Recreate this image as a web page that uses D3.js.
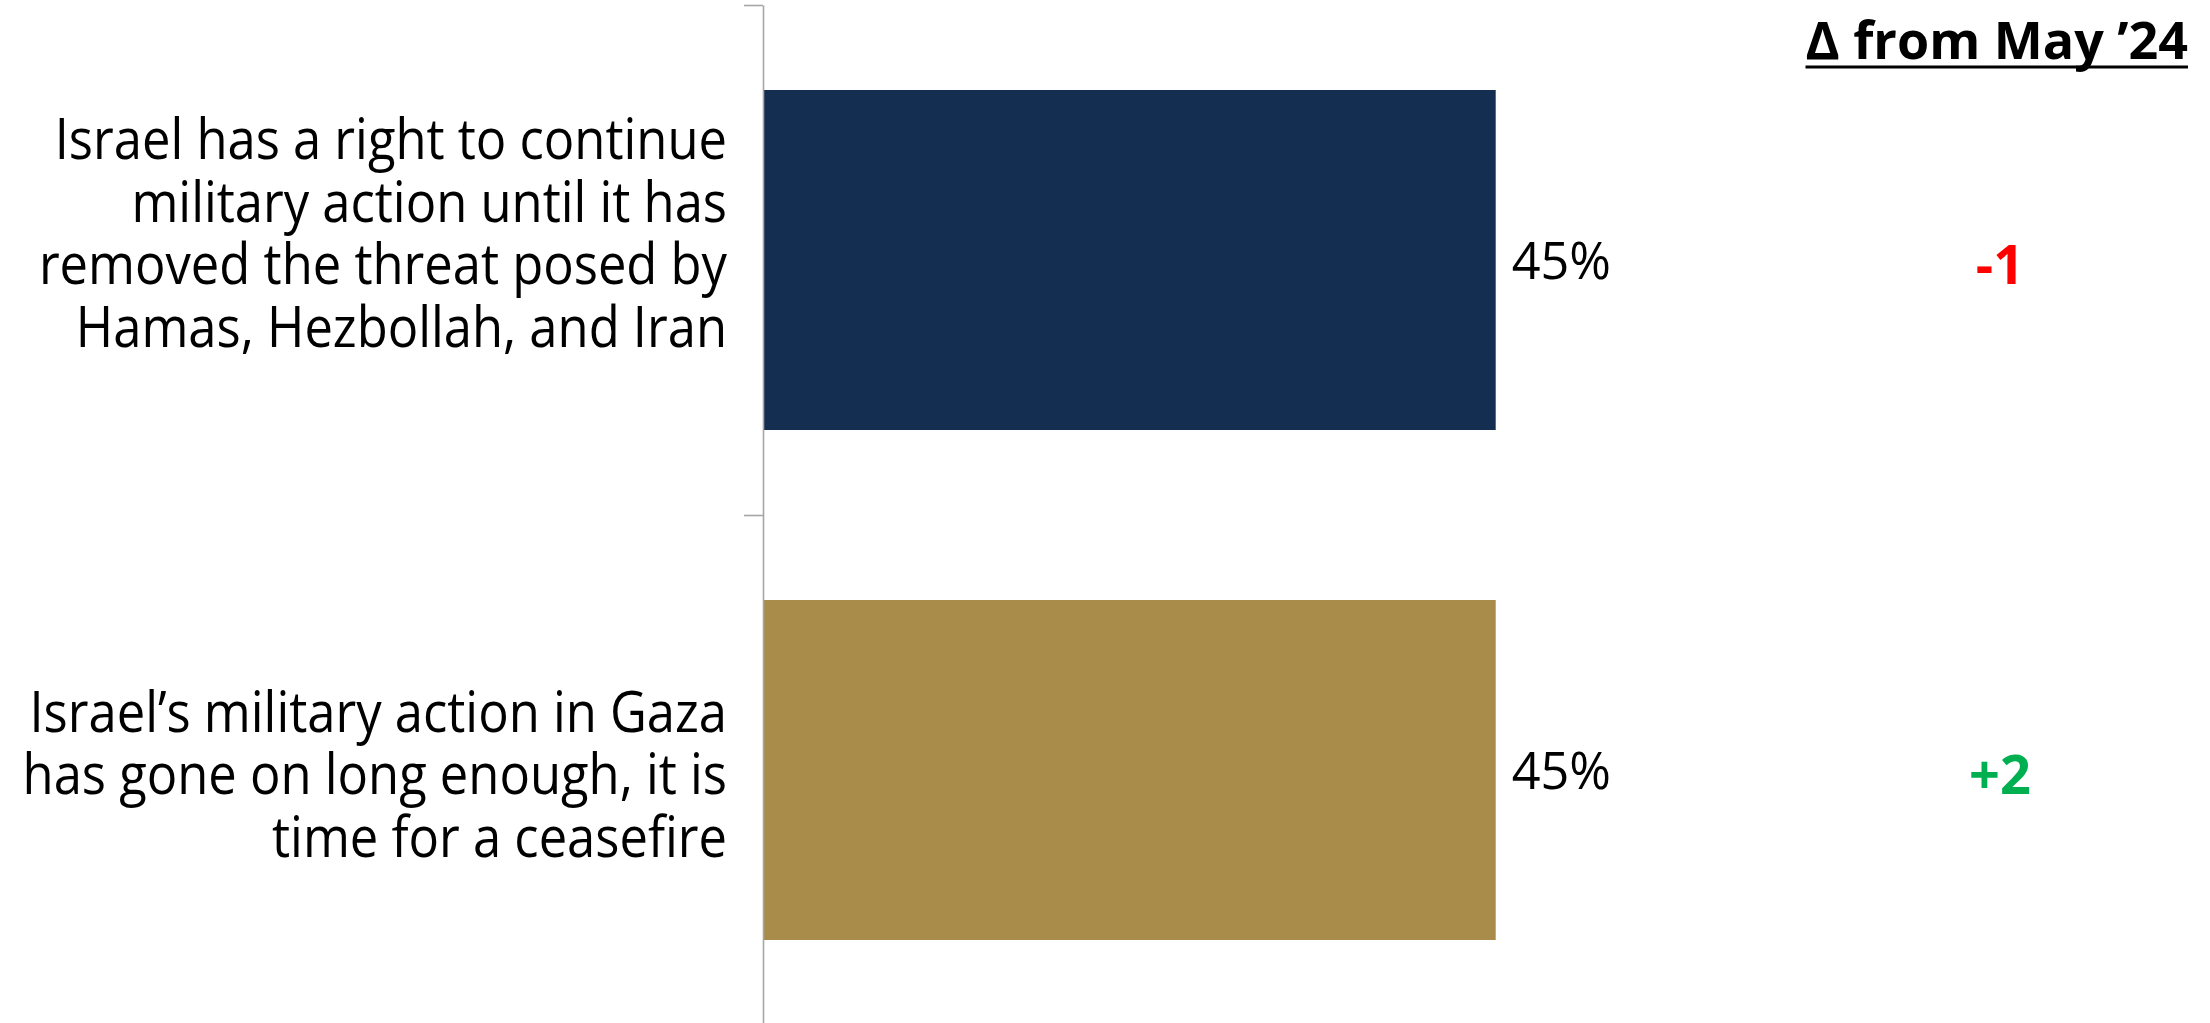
<!DOCTYPE html>
<html><head><meta charset="utf-8">
<script src="https://cdn.jsdelivr.net/npm/d3@7"></script>
<style>html,body{margin:0;padding:0;background:#fff;overflow:hidden}</style>
</head><body>
<svg id="chart" width="2210" height="1023"></svg>
<script>
// ---- data ----
const categories = ["Right to continue", "Time for a ceasefire"];
const labelLines = [
  ["Israel has a right to continue", "military action until it has", "removed the threat posed by", "Hamas, Hezbollah, and Iran"],
  ["Israel’s military action in Gaza", "has gone on long enough, it is", "time for a ceasefire"]
];
const values = [45, 45];
const changes = [-1, 2];
const headerText = "Δ from May ’24";
const barColors = ["#142e52", "#a98b4a"];

// ---- layout ----
const axisX = 763;
const svg = d3.select("#chart");
const x = d3.scaleLinear().domain([0, 60]).range([axisX, axisX + 732.7 * 60 / 45]);
const y = d3.scaleBand().domain(categories).range([5, 1025]).paddingInner(1/3).paddingOuter(1/6);
const yEdge = d3.scaleLinear().domain([0, categories.length]).range([5, 1025]);

const labelFont = "'Open Sans', 'Noto Sans', sans-serif";
const labelSize = 57, labelSx = 0.89, lineGap = 62.6;
const valueSize = 52, valueSx = 0.97;

// bars
svg.append("g").selectAll("rect").data(categories).join("rect")
  .attr("x", x(0)).attr("y", d => y(d))
  .attr("width", (d, i) => x(values[i]) - x(0))
  .attr("height", y.bandwidth())
  .attr("fill", (d, i) => barColors[i]);

// axis
const axis = svg.append("g").attr("transform", `translate(${axisX},0)`)
  .call(d3.axisLeft(yEdge).tickValues(d3.range(categories.length + 1)).tickSize(19).tickSizeOuter(0).tickFormat(""));
axis.select(".domain").attr("stroke", "#a6a6a6").attr("stroke-width", 1.6);
axis.selectAll(".tick line").attr("stroke", "#a6a6a6").attr("stroke-width", 1.6);

// category labels (bottom anchored, right aligned)
categories.forEach((c, i) => {
  const lines = labelLines[i];
  const cy = y(c) + y.bandwidth() / 2;
  const lastBase = cy + 87;
  lines.forEach((t, j) => {
    const base = lastBase - (lines.length - 1 - j) * lineGap;
    svg.append("text")
      .attr("transform", `translate(${axisX - 36},${base}) scale(${labelSx},1)`)
      .attr("text-anchor", "end")
      .attr("font-family", labelFont).attr("font-size", labelSize)
      .attr("fill", "#000").text(t);
  });
});

// value labels
svg.append("g").selectAll("text").data(categories).join("text")
  .attr("transform", (d, i) => `translate(${x(values[i]) + 16},${y(d) + y.bandwidth() / 2 + 19}) scale(${valueSx},1)`)
  .attr("font-family", labelFont).attr("font-size", valueSize).attr("fill", "#000")
  .text((d, i) => values[i] + "%");

// change labels
svg.append("g").selectAll("text").data(categories).join("text")
  .attr("x", 2000).attr("y", d => y(d) + y.bandwidth() / 2 + 24)
  .attr("text-anchor", "middle")
  .attr("font-family", labelFont).attr("font-weight", 700).attr("font-size", 54)
  .attr("fill", (d, i) => changes[i] < 0 ? "#ff0000" : "#00b050")
  .text((d, i) => (changes[i] > 0 ? "+" : "") + changes[i]);

// header
const hdr = svg.append("text")
  .attr("x", 2188).attr("y", 59).attr("text-anchor", "end")
  .attr("font-family", labelFont).attr("font-weight", 700).attr("font-size", 52)
  .attr("fill", "#000").text(headerText);
const bb = hdr.node().getBBox();
svg.append("line").attr("x1", bb.x).attr("x2", bb.x + bb.width)
  .attr("y1", 67).attr("y2", 67).attr("stroke", "#000").attr("stroke-width", 3);
</script>
</body></html>
